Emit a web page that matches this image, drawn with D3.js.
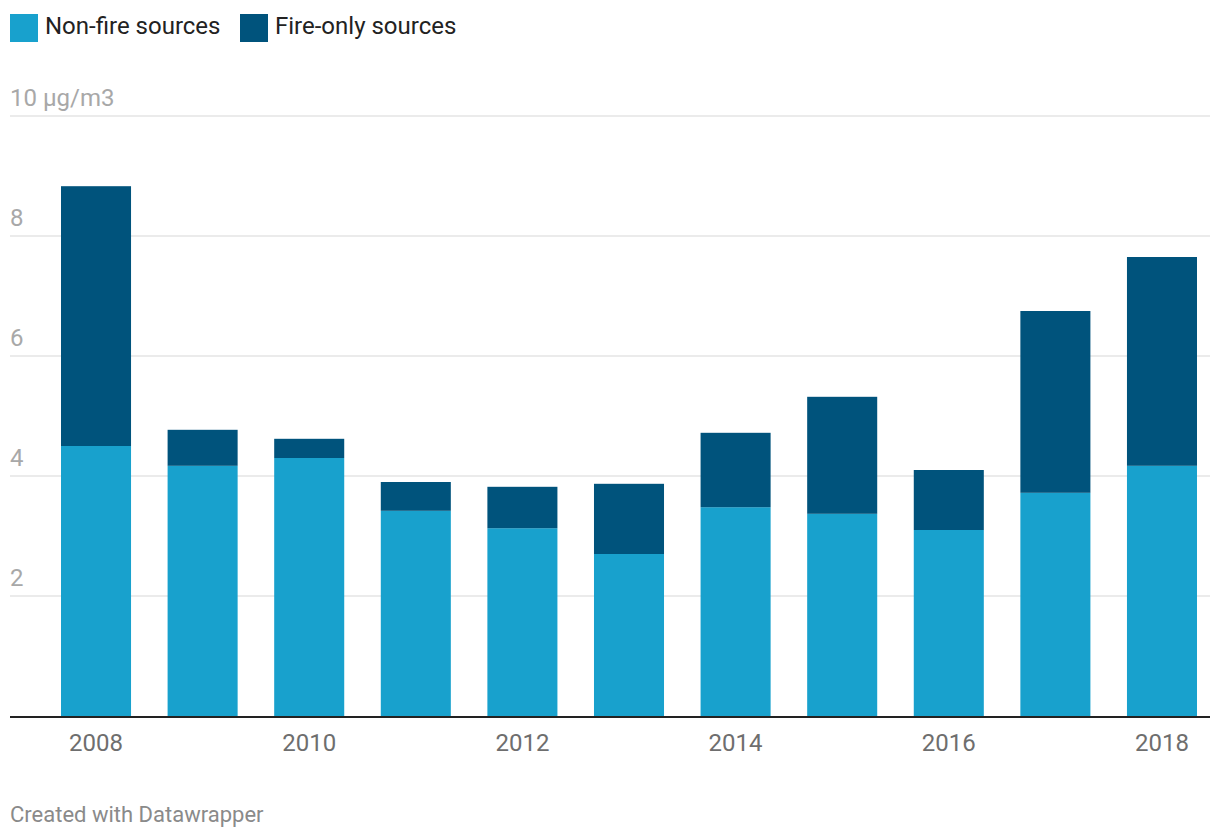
<!DOCTYPE html>
<html>
<head>
<meta charset="utf-8">
<script src="https://cdn.jsdelivr.net/npm/d3@7"></script>
<style>
  body { margin: 0; background: #fff; }
  svg { display: block; font-family: Roboto, "Noto Sans", sans-serif; }
</style>
</head>
<body>
<svg id="chart" width="1220" height="840"></svg>
<script>
const years = ["2008","2009","2010","2011","2012","2013","2014","2015","2016","2017","2018"];
const nonFire = [4.5, 4.17, 4.3, 3.42, 3.13, 2.7, 3.48, 3.37, 3.1, 3.72, 4.17];
const fireOnly = [4.33, 0.6, 0.32, 0.48, 0.69, 1.17, 1.24, 1.95, 1.0, 3.03, 3.48];
const seriesNames = ["Non-fire sources", "Fire-only sources"];
const seriesColors = ["#18a1cd", "#00537c"];
const yTicks = [2, 4, 6, 8, 10];
const xTickLabels = ["2008","2010","2012","2014","2016","2018"];

const svg = d3.select("#chart");

const x = d3.scaleBand().domain(years).range([61, 1197]).paddingInner(0.343).paddingOuter(0);
const y = d3.scaleLinear().domain([0, 10]).range([716, 116]);

// gridlines
svg.append("g").selectAll("line").data(yTicks).join("line")
  .attr("x1", 10).attr("x2", 1210)
  .attr("y1", d => y(d)).attr("y2", d => y(d))
  .attr("stroke", "#e5e5e5").attr("stroke-width", 1.5);

// y labels
svg.append("g").selectAll("text").data(yTicks).join("text")
  .attr("x", 10).attr("y", d => y(d) - 10)
  .attr("fill", "#a8a8a8").attr("font-size", 24)
  .text(d => d === 10 ? "10 µg/m3" : d);

// stacked bars
const rows = years.map((yr, i) => ({ year: yr, nonFire: nonFire[i], fireOnly: fireOnly[i] }));
const stack = d3.stack().keys(["nonFire", "fireOnly"])(rows);
svg.append("g").selectAll("g").data(stack).join("g")
  .attr("fill", (d, i) => seriesColors[i])
  .selectAll("rect").data(d => d).join("rect")
  .attr("x", d => x(d.data.year))
  .attr("width", x.bandwidth())
  .attr("y", d => y(d[1]))
  .attr("height", d => y(d[0]) - y(d[1]));

// baseline
svg.append("line").attr("x1", 10).attr("x2", 1210)
  .attr("y1", y(0) + 1).attr("y2", y(0) + 1)
  .attr("stroke", "#222").attr("stroke-width", 2);

// x labels
svg.append("g").selectAll("text").data(xTickLabels).join("text")
  .attr("x", d => x(d) + x.bandwidth() / 2).attr("y", 751)
  .attr("text-anchor", "middle")
  .attr("fill", "#6e6e6e").attr("font-size", 24)
  .text(d => d);

// legend
const legendX = [10, 240];
const lg = svg.append("g").selectAll("g").data(seriesNames).join("g")
  .attr("transform", (d, i) => `translate(${legendX[i]},14)`);
lg.append("rect").attr("width", 28).attr("height", 28).attr("fill", (d, i) => seriesColors[i]);
lg.append("text").attr("x", 35).attr("y", 20).attr("font-size", 24).attr("fill", "#222").text(d => d);

// footer
svg.append("text").attr("x", 10).attr("y", 822)
  .attr("font-size", 22).attr("fill", "#8a8a8a")
  .text("Created with Datawrapper");
</script>
</body>
</html>
